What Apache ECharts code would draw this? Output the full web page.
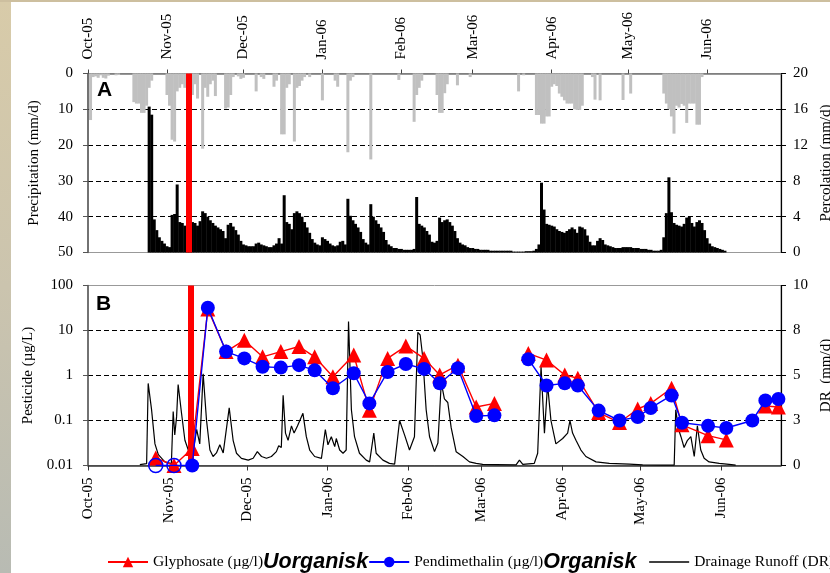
<!DOCTYPE html>
<html><head><meta charset="utf-8">
<script src="https://cdn.jsdelivr.net/npm/echarts@6/dist/echarts.min.js"></script>
<style>
html,body{margin:0;padding:0;width:830px;height:573px;overflow:hidden;background:#fff;}
#bg{position:absolute;left:0;top:0;width:830px;height:573px;background:
 linear-gradient(to bottom,#cdbf9f 0,#cdbf9f 2px,transparent 2px),
 linear-gradient(to right,transparent 0,transparent 11px,#fff 11px),
 linear-gradient(to bottom,#d8cba9,#cbc4ae 50%,#b8bbb3);}
#chart{position:absolute;left:0;top:0;width:830px;height:573px;}
</style></head>
<body><div id="bg"></div><div id="chart"></div>
<script>
// x values are days since 1 Oct 2005
const monthTickDays = [0,31,61,92,123,151,182,212,243];
const monthTickLabels = ['Oct-05','Nov-05','Dec-05','Jan-06','Feb-06','Mar-06','Apr-06','May-06','Jun-06'];

// Precipitation (mm/d): [day, value]
const precipitation = [[1,13],[2,1.0],[3,0.8],[4,1.2],[5,0.5],[6,1.2],[7,1.4],[8,0.6],[11,0.5],[12,0.4],
 [18,8],[19,8.4],[20,8.4],[21,11],[22,11],[23,9],[24,4],[25,2],
 [31,6],[32,9],[33,18.5],[34,19],[35,5],[36,4],[37,3],[38,4],[39,4],[40,3],[41,6],[42,3],[43,7],[45,21],[46,4],[47,6.5],[48,3],[49,2],[50,6.3],
 [54,9.8],[55,9.5],[56,6],[57,1],[59,0.8],[60,1.5],[61,1.2],[66,5],[68,1],[69,1.5],[73,3.7],[74,2],[76,17],[77,17],[78,4],[79,3],[81,19],[82,4],[83,3.5],[84,2],[85,1],[87,1],
 [92,7.5],[97,2],[98,3.7],[102,22],[103,2],[104,1],[111,24],[122,1.8],[128,13.5],[129,6],[130,4],[131,2],[137,6],[138,11],[139,11],[140,5.5],[141,3],[145,3.3],[150,1],
 [169,5],[171,0.5],[176,11.6],[177,11.6],[178,14],[179,14],[180,12],[181,12],[182,3.7],[183,3],[184,3.5],[185,5.6],[186,6.5],[187,7.5],[188,8.4],[189,8.4],[190,8.4],[191,10],[192,10.2],[193,10.2],[194,9],[198,1],[199,7.3],[201,7.5],[210,7.4],[213,5.6],
 [226,5.6],[227,8.4],[228,10],[229,12],[230,16.8],[231,9],[232,9.5],[233,8.5],[234,9],[235,13.8],[236,8.4],[237,8.4],[238,8.4],[239,14.3],[240,14.3],[241,1]];

// Percolation (mm/d), daily from day 24
const percolationStart = 24;
const percolation = [16.3,15.4,3.7,2.5,1.7,1.3,1.0,0.7,0.6,4.2,
 4.3,7.6,3.4,3.3,3.0,2.8,2.6,3.4,3.3,3.0,
 3.5,4.6,4.4,4.0,3.6,3.3,3.0,2.8,2.6,2.4,
 1.6,3.1,3.3,2.9,2.5,2.0,1.3,0.9,0.8,0.7,
 0.7,0.7,1.0,1.1,0.9,0.8,0.7,0.6,0.6,0.8,
 1.0,1.6,1.0,6.4,3.4,3.2,2.6,4.4,4.6,4.4,
 4.0,3.4,2.8,2.2,1.5,1.1,0.9,0.8,1.7,1.5,
 1.3,1.0,0.8,0.7,0.8,1.2,1.3,0.9,6.0,4.1,
 3.6,3.2,2.8,2.3,1.5,1.1,0.9,5.4,4.0,3.6,
 3.2,2.8,2.3,1.4,0.9,0.7,0.5,0.5,0.4,0.4,
 0.3,0.3,0.3,0.3,0.4,6.2,3.2,3.0,2.8,2.4,
 2.0,1.2,1.1,1.3,3.9,3.4,3.6,3.7,3.4,3.0,
 2.4,1.6,1.1,0.9,0.8,0.6,0.5,0.5,0.4,0.4,
 0.3,0.3,0.3,0.3,0.2,0.2,0.2,0.2,0.2,0.2,
 0.2,0.2,0.2,0.1,0.1,0.1,0.1,0.1,0.15,0.15,
 0.15,0.2,0.4,0.9,7.8,4.8,3.2,3.1,3.0,2.9,
 2.6,2.4,2.3,2.2,2.4,2.6,2.8,2.6,2.2,2.9,
 2.8,2.6,1.9,1.2,0.8,0.8,1.3,1.6,1.4,0.9,
 0.8,0.7,0.6,0.5,0.5,0.5,0.6,0.6,0.6,0.6,
 0.5,0.5,0.5,0.4,0.4,0.4,0.3,0.3,0.2,0.2,
 0.2,0.3,1.7,4.4,8.4,4.5,3.3,3.1,3.0,2.9,
 3.2,3.9,4.0,3.3,2.9,3.4,3.6,3.3,2.5,1.6,
 1.0,0.7,0.6,0.5,0.4,0.3,0.2];

// Drainage runoff DR (mm/d): [day, value]
const drainageRunoff = [[19.9,0.05],[22.5,0.1],[23.1,4.56],[24.4,3.1],[25.7,1.2],[27,0.6],[29.5,0.2],[32,0.1],[32.7,3.0],[33.3,1.7],[34,2.7],[34.6,4.5],[35.9,2.9],[37.2,1.4],[38.5,0.86],[39.5,0.7],[40.4,0.8],[41.7,2.0],[42.9,1.2],[44.2,5.1],[45.5,2.5],[46.8,0.86],[48,0.5],[49.3,0.7],[50.6,1.15],[51.9,0.7],[54.2,3.2],[55.7,1.4],[57,0.68],[58.9,0.4],[61.5,0.3],[63.4,0.4],[65,0.77],[66.6,0.5],[68.5,0.4],[70.4,0.5],[72.3,0.77],[73.2,1.1],[74.2,1.0],[74.9,3.9],[75.8,1.8],[76.8,1.4],[78.1,2.2],[79.1,1.8],[80.4,2.2],[82.5,2.9],[83.8,1.6],[85.1,0.86],[87,0.5],[89.6,0.4],[91.1,2.0],[92.1,1.15],[93.4,1.6],[94.7,1.05],[95.3,1.5],[96.6,0.86],[97.9,0.68],[99.1,0.86],[100,8.0],[101.1,3.1],[102.3,1.6],[104.2,0.68],[106.8,0.3],[108.1,0.2],[109.7,1.8],[110.6,0.68],[113.2,0.3],[115.7,0.12],[117.7,0.08],[119.6,2.5],[121.5,1.7],[123.4,0.86],[125.3,1.6],[126.6,7.4],[127.5,7.25],[128.5,6.0],[129.8,3.1],[131.1,1.6],[133,0.77],[134.3,1.25],[135.6,4.6],[136.8,3.7],[138.1,3.5],[139.4,2.1],[141.3,0.77],[143.9,0.5],[146.4,0.2],[149,0.12],[151.5,0.06],[156.6,0.05],[164.3,0.03],[165.6,0.3],[166.9,0.06],[171.3,0.12],[172.6,0.68],[173.9,5.5],[175.2,1.8],[176.4,4.5],[177.7,2.5],[179.6,1.2],[182.2,1.5],[184.1,1.8],[185,2.5],[186,1.8],[187.3,1.4],[189.2,0.86],[191.1,0.5],[195,0.2],[200.1,0.12],[207.8,0.08],[212.9,0.03],[220.5,0.02],[225,0.02],[225.6,3.1],[226.7,2.0],[227.6,1.6],[228.8,1.0],[230.1,1.4],[231.4,1.6],[232.7,0.5],[233.9,2.2],[235.2,0.86],[236.5,0.4],[238.4,0.2],[242.3,0.12],[246.1,0.06],[248.6,0.02]];

// Pesticide samples (µg/L); null = no sample / gap
const sampleDays = [26,33,40,46,53,60,67,74,81,87,94,102,108,115,122,129,135,142,149,156,162,169,176,183,188,196,204,211,216,224,228,238,245,255,260,265];
const glyphosate = [0.0147,0.01,0.024,30,3.4,6.1,2.6,3.4,4.4,2.6,0.94,2.86,0.17,2.4,4.5,2.4,1.03,1.7,0.2,0.24,null,3.1,2.2,1.03,0.87,0.15,0.09,0.18,0.24,0.52,0.08,0.046,0.037,null,0.21,0.2];
const pendimethalin = [0.01,0.01,0.01,32,3.4,2.4,1.57,1.5,1.7,1.3,0.52,1.12,0.24,1.2,1.8,1.4,0.67,1.45,0.126,0.13,null,2.3,0.6,0.67,0.6,0.166,0.1,0.12,0.19,0.36,0.089,0.076,0.068,0.1,0.28,0.3];
const pendimethalinOpenMarkers = [0,1];
const applicationDay = 39.5;

const legendTags = {'Glyphosate (µg/l)':'u','Pendimethalin (µg/l)':'o'};
const legendWords = {'Glyphosate (µg/l)':'Uorganisk','Pendimethalin (µg/l)':'Organisk\u00a0\u00a0'};

const serif = 'Liberation Serif';
const labelStyle = {fontFamily: serif, fontSize: 15, color: '#000'};
const nameStyle = {fontFamily: serif, fontSize: 15, color: '#000'};
const dashed = {show: true, showMinLine: false, showMaxLine: false, lineStyle: {color: '#000', type: [5, 3], width: 1}};
const monthLabel = v => { const i = monthTickDays.indexOf(v); return i >= 0 ? monthTickLabels[i] : ''; };

const chart = echarts.init(document.getElementById('chart'));
const redLine = {
  silent: true, symbol: ['none','none'], label: {show: false},
  lineStyle: {color: '#ff0000', width: 6, type: 'solid'},
  data: [{xAxis: applicationDay}]
};
const boldItalic = {fontFamily: 'Liberation Sans', fontWeight: 'bold', fontStyle: 'italic', fontSize: 21.5, color: '#000'};

chart.setOption({
  animation: false,
  backgroundColor: 'transparent',
  title: [
    {text: 'A', left: 97, top: 80, padding: 0, textStyle: {fontFamily: 'Liberation Sans', fontWeight: 'bold', fontSize: 21, color: '#000'}},
    {text: 'B', left: 96, top: 294, padding: 0, textStyle: {fontFamily: 'Liberation Sans', fontWeight: 'bold', fontSize: 21, color: '#000'}}
  ],
  legend: {
    left: 102, top: 546, width: 800, itemWidth: 40, itemHeight: 13, itemGap: 0,
    data: ['Glyphosate (µg/l)', 'Pendimethalin (µg/l)', {name: 'Drainage Runoff (DR)', itemStyle: {opacity: 0}, lineStyle: {color: '#000', width: 1.5, opacity: 1}}],
    formatter: n => legendTags[n] ? n + '{' + legendTags[n] + '|' + legendWords[n] + '}' : n,
    textStyle: {fontFamily: serif, fontSize: 15.5, color: '#000',
      rich: {u: boldItalic, o: boldItalic}}
  },
  grid: [
    {left: 88, right: 49, top: 73.5, height: 179, outerBoundsMode: 'none', containLabel: false, show: true, borderColor: '#999', borderWidth: 1, backgroundColor: '#fff'},
    {left: 88, right: 49, top: 285.5, height: 180, outerBoundsMode: 'none', containLabel: false, show: true, borderColor: '#999', borderWidth: 1, backgroundColor: '#fff'}
  ],
  xAxis: [
    {gridIndex: 0, type: 'value', position: 'top', min: 0, max: 272,
     axisLine: {show: true, onZero: false, lineStyle: {color: '#777', width: 1.5}},
     axisTick: {show: true, customValues: monthTickDays, length: 4, lineStyle: {color: '#444'}},
     axisLabel: Object.assign({customValues: monthTickDays, formatter: monthLabel, rotate: -90, margin: 14}, labelStyle),
     splitLine: {show: false}},
    {gridIndex: 1, type: 'value', position: 'bottom', min: 0, max: 266,
     axisLine: {show: true, onZero: false, lineStyle: {color: '#333', width: 1.5}},
     axisTick: {show: true, customValues: monthTickDays, length: 5, lineStyle: {color: '#333'}},
     axisLabel: Object.assign({customValues: monthTickDays, formatter: monthLabel, rotate: 90, margin: 12}, labelStyle),
     splitLine: {show: false}}
  ],
  yAxis: [
    {gridIndex: 0, type: 'value', position: 'left', inverse: true, min: 0, max: 50, interval: 10,
     name: 'Precipitation (mm/d)', nameLocation: 'middle', nameGap: 46, nameTextStyle: nameStyle,
     axisLine: {show: true, onZero: false, lineStyle: {color: '#555', width: 1.5}},
     axisTick: {show: true, length: 5, lineStyle: {color: '#555'}},
     axisLabel: Object.assign({margin: 15}, labelStyle), splitLine: dashed},
    {gridIndex: 0, type: 'value', position: 'right', min: 0, max: 20, interval: 4,
     name: 'Percolation (mm/d)', nameLocation: 'middle', nameGap: 38, nameRotate: 90, nameTextStyle: nameStyle,
     axisLine: {show: true, onZero: false, lineStyle: {color: '#000', width: 1.2}},
     axisTick: {show: true, length: 5, lineStyle: {color: '#000'}},
     axisLabel: Object.assign({margin: 12}, labelStyle), splitLine: {show: false}},
    {gridIndex: 1, type: 'log', logBase: 10, position: 'left', min: 0.01, max: 100,
     name: 'Pesticide (µg/L)', nameLocation: 'middle', nameGap: 46, nameTextStyle: nameStyle,
     axisLine: {show: true, onZero: false, lineStyle: {color: '#555', width: 1.5}},
     axisTick: {show: true, length: 5, lineStyle: {color: '#555'}},
     axisLabel: Object.assign({margin: 15, formatter: v => String(+v.toPrecision(6))}, labelStyle), splitLine: dashed},
    {gridIndex: 1, type: 'value', position: 'right', min: 0, max: 10, interval: 2.5,
     name: 'DR  (mm/d)', nameLocation: 'middle', nameGap: 38, nameRotate: 90, nameTextStyle: nameStyle,
     axisLine: {show: true, onZero: false, lineStyle: {color: '#000', width: 1.2}},
     axisTick: {show: true, length: 5, lineStyle: {color: '#000'}},
     axisLabel: Object.assign({margin: 12, formatter: v => String(Math.round(v))}, labelStyle), splitLine: {show: false}}
  ],
  series: [
    {name: 'Precipitation', type: 'bar', xAxisIndex: 0, yAxisIndex: 0, barWidth: 3, barGap: '-100%',
     itemStyle: {color: '#c0c0c0'}, silent: true, data: precipitation, z: 2},
    {name: 'Percolation', type: 'bar', xAxisIndex: 0, yAxisIndex: 1, barWidth: 3, barGap: '-100%',
     itemStyle: {color: '#000'}, silent: true, z: 3,
     data: percolation.map((v, i) => [percolationStart + i, v]), markLine: redLine},
    {name: 'Drainage Runoff (DR)', type: 'line', xAxisIndex: 1, yAxisIndex: 3, symbol: 'none', z: 2,
     lineStyle: {color: '#000', width: 1.2}, itemStyle: {color: '#000'},
     data: drainageRunoff, markLine: redLine},
    {name: 'Glyphosate (µg/l)', type: 'line', xAxisIndex: 1, yAxisIndex: 2, symbol: 'triangle', symbolSize: 15, z: 4,
     connectNulls: false, lineStyle: {color: '#ff0000', width: 1.4}, itemStyle: {color: '#ff0000'},
     data: sampleDays.map((d, i) => [d, glyphosate[i]])},
    {name: 'Pendimethalin (µg/l)', type: 'line', xAxisIndex: 1, yAxisIndex: 2, symbol: 'circle', symbolSize: 14, z: 5,
     connectNulls: false, lineStyle: {color: '#0000ff', width: 1.4}, itemStyle: {color: '#0000ff'},
     data: sampleDays.map((d, i) => pendimethalinOpenMarkers.includes(i)
       ? {value: [d, pendimethalin[i]], itemStyle: {color: 'rgba(0,0,0,0)', borderColor: '#0000ff', borderWidth: 1.5}}
       : [d, pendimethalin[i]])}
  ]
});
</script>
</body></html>
